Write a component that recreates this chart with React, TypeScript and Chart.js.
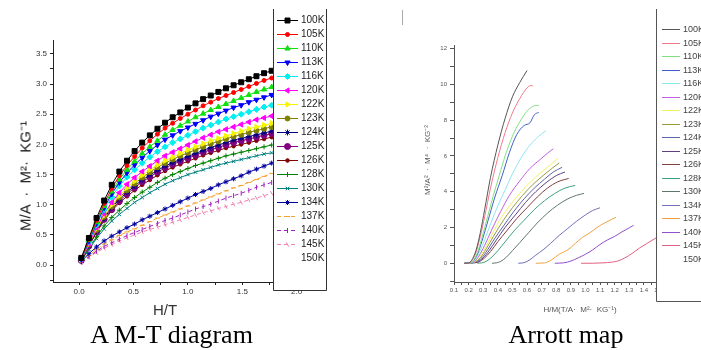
import React, { useEffect, useRef } from 'react';
import { Chart, registerables } from 'chart.js';
import { drawPoint } from 'chart.js/helpers';

Chart.register(...registerables);

// ---------------- data ----------------
const temperatures = ['100K', '105K', '110K', '113K', '116K', '120K', '122K', '123K', '124K', '125K', '126K', '128K', '130K', '134K', '137K', '140K', '145K', '150K'];

// M-T diagram: field H (T)
const fieldH = [0.02, 0.09, 0.16, 0.23, 0.30, 0.37, 0.44, 0.51, 0.58, 0.65, 0.72, 0.79, 0.86, 0.93, 1.00, 1.07, 1.14, 1.21, 1.28, 1.35, 1.42, 1.49, 1.56, 1.63, 1.70, 1.77];

const mt100 = [0.12, 0.45, 0.78, 1.07, 1.33, 1.55, 1.73, 1.89, 2.03, 2.15, 2.26, 2.36, 2.45, 2.53, 2.61, 2.68, 2.75, 2.81, 2.87, 2.93, 2.98, 3.03, 3.08, 3.13, 3.18, 3.22];
const mt105 = [0.11, 0.43, 0.74, 1.02, 1.27, 1.48, 1.65, 1.80, 1.94, 2.06, 2.17, 2.27, 2.35, 2.43, 2.50, 2.57, 2.64, 2.70, 2.76, 2.81, 2.86, 2.91, 2.96, 3.01, 3.06, 3.10];
const mt110 = [0.11, 0.42, 0.71, 0.98, 1.22, 1.42, 1.58, 1.72, 1.85, 1.96, 2.06, 2.16, 2.24, 2.31, 2.38, 2.45, 2.51, 2.57, 2.62, 2.67, 2.72, 2.77, 2.82, 2.87, 2.91, 2.95];
const mt113 = [0.10, 0.40, 0.69, 0.95, 1.18, 1.37, 1.53, 1.66, 1.78, 1.89, 1.99, 2.08, 2.15, 2.22, 2.28, 2.34, 2.40, 2.46, 2.51, 2.56, 2.61, 2.65, 2.70, 2.74, 2.78, 2.82];
const mt116 = [0.10, 0.39, 0.67, 0.92, 1.13, 1.31, 1.46, 1.58, 1.69, 1.79, 1.88, 1.96, 2.03, 2.09, 2.15, 2.21, 2.27, 2.32, 2.37, 2.42, 2.46, 2.50, 2.54, 2.58, 2.62, 2.65];
const mt120 = [0.09, 0.36, 0.62, 0.85, 1.04, 1.20, 1.34, 1.45, 1.55, 1.64, 1.73, 1.81, 1.87, 1.93, 1.99, 2.05, 2.11, 2.16, 2.21, 2.25, 2.29, 2.33, 2.37, 2.41, 2.44, 2.47];
const mt122 = [0.09, 0.35, 0.60, 0.82, 1.00, 1.15, 1.28, 1.39, 1.49, 1.58, 1.66, 1.73, 1.79, 1.85, 1.91, 1.96, 2.01, 2.06, 2.10, 2.14, 2.18, 2.22, 2.26, 2.29, 2.32, 2.35];
const mt123 = [0.09, 0.34, 0.58, 0.80, 0.97, 1.12, 1.24, 1.35, 1.45, 1.54, 1.62, 1.69, 1.75, 1.81, 1.86, 1.91, 1.96, 2.01, 2.05, 2.09, 2.13, 2.16, 2.20, 2.23, 2.26, 2.29];
const mt124 = [0.08, 0.33, 0.57, 0.78, 0.95, 1.09, 1.21, 1.31, 1.41, 1.49, 1.57, 1.64, 1.70, 1.75, 1.80, 1.85, 1.90, 1.95, 1.99, 2.03, 2.07, 2.10, 2.13, 2.16, 2.19, 2.22];
const mt125 = [0.08, 0.32, 0.55, 0.76, 0.92, 1.06, 1.18, 1.28, 1.38, 1.46, 1.54, 1.61, 1.67, 1.72, 1.77, 1.82, 1.87, 1.91, 1.95, 1.99, 2.03, 2.06, 2.09, 2.12, 2.15, 2.18];
const mt126 = [0.08, 0.32, 0.54, 0.74, 0.90, 1.03, 1.14, 1.24, 1.33, 1.41, 1.49, 1.56, 1.62, 1.67, 1.72, 1.77, 1.82, 1.86, 1.90, 1.94, 1.97, 2.00, 2.03, 2.06, 2.09, 2.12];
const mt128 = [0.07, 0.28, 0.47, 0.65, 0.79, 0.91, 1.02, 1.12, 1.21, 1.29, 1.37, 1.44, 1.50, 1.55, 1.60, 1.65, 1.69, 1.73, 1.77, 1.81, 1.84, 1.87, 1.90, 1.93, 1.96, 1.99];
const mt130 = [0.07, 0.26, 0.44, 0.60, 0.73, 0.84, 0.94, 1.04, 1.12, 1.20, 1.27, 1.34, 1.40, 1.45, 1.50, 1.54, 1.58, 1.62, 1.66, 1.69, 1.72, 1.75, 1.78, 1.81, 1.84, 1.86];
const mt134 = [0.06, 0.19, 0.30, 0.40, 0.48, 0.55, 0.62, 0.68, 0.75, 0.81, 0.87, 0.93, 0.99, 1.05, 1.11, 1.17, 1.22, 1.27, 1.33, 1.38, 1.43, 1.48, 1.54, 1.59, 1.64, 1.69];
const mt137 = [0.05, 0.16, 0.26, 0.35, 0.42, 0.49, 0.55, 0.60, 0.66, 0.72, 0.78, 0.83, 0.88, 0.93, 0.98, 1.03, 1.08, 1.13, 1.18, 1.23, 1.28, 1.32, 1.37, 1.42, 1.47, 1.52];
const mt140 = [0.05, 0.14, 0.23, 0.31, 0.37, 0.43, 0.49, 0.54, 0.59, 0.64, 0.69, 0.74, 0.78, 0.83, 0.88, 0.93, 0.97, 1.01, 1.06, 1.11, 1.15, 1.19, 1.24, 1.29, 1.33, 1.37];
const mt145 = [0.04, 0.13, 0.21, 0.28, 0.34, 0.40, 0.45, 0.50, 0.55, 0.59, 0.63, 0.67, 0.71, 0.75, 0.79, 0.83, 0.87, 0.90, 0.94, 0.97, 1.01, 1.04, 1.08, 1.11, 1.15, 1.19];
const mt150: number[] = [];

const mtSeries = [mt100, mt105, mt110, mt113, mt116, mt120, mt122, mt123, mt124, mt125, mt126, mt128, mt130, mt134, mt137, mt140, mt145, mt150];

// Arrott map: [H/M, M^2]
const arrott100 = [[0.17, 0], [0.20, 0.02], [0.22, 0.15], [0.25, 0.7], [0.28, 1.7], [0.31, 3.0], [0.35, 4.8], [0.40, 6.6], [0.45, 8.1], [0.50, 9.3], [0.55, 10.1], [0.60, 10.77]];
const arrott105 = [[0.17, 0], [0.20, 0.02], [0.22, 0.12], [0.25, 0.6], [0.28, 1.5], [0.31, 2.6], [0.35, 4.2], [0.40, 5.9], [0.45, 7.3], [0.50, 8.4], [0.55, 9.2], [0.60, 9.8], [0.625, 9.93], [0.64, 9.92]];
const arrott110 = [[0.17, 0], [0.20, 0.02], [0.23, 0.12], [0.26, 0.6], [0.29, 1.4], [0.33, 2.6], [0.37, 3.8], [0.41, 4.9], [0.45, 6.0], [0.50, 7.1], [0.55, 7.9], [0.60, 8.5], [0.65, 8.8], [0.68, 8.82]];
const arrott113 = [[0.17, 0], [0.20, 0.02], [0.23, 0.1], [0.26, 0.5], [0.29, 1.2], [0.33, 2.3], [0.38, 3.7], [0.43, 4.9], [0.48, 6.2], [0.53, 7.2], [0.58, 7.7], [0.62, 7.85], [0.65, 8.3], [0.68, 8.43]];
const arrott116 = [[0.17, 0], [0.20, 0.02], [0.23, 0.08], [0.26, 0.4], [0.30, 1.1], [0.35, 2.2], [0.40, 3.2], [0.45, 4.1], [0.50, 5.0], [0.56, 5.9], [0.62, 6.6], [0.68, 7.1], [0.73, 7.42]];
const arrott120 = [[0.17, 0], [0.21, 0.02], [0.24, 0.1], [0.27, 0.4], [0.31, 1.0], [0.36, 1.9], [0.42, 2.9], [0.48, 3.8], [0.55, 4.6], [0.62, 5.3], [0.69, 5.8], [0.74, 6.15], [0.78, 6.4]];
const arrott122 = [[0.18, 0], [0.21, 0.02], [0.24, 0.08], [0.27, 0.3], [0.31, 0.8], [0.36, 1.6], [0.42, 2.5], [0.49, 3.3], [0.56, 4.0], [0.63, 4.6], [0.70, 5.1], [0.76, 5.5], [0.81, 5.85]];
const arrott123 = [[0.18, 0], [0.21, 0.02], [0.24, 0.07], [0.28, 0.3], [0.32, 0.8], [0.37, 1.5], [0.43, 2.3], [0.50, 3.1], [0.57, 3.8], [0.64, 4.4], [0.71, 4.9], [0.77, 5.3], [0.82, 5.6]];
const arrott124 = [[0.18, 0], [0.22, 0.02], [0.25, 0.07], [0.29, 0.3], [0.33, 0.75], [0.38, 1.4], [0.44, 2.1], [0.51, 2.9], [0.58, 3.6], [0.65, 4.2], [0.72, 4.7], [0.78, 5.1], [0.84, 5.36]];
const arrott125 = [[0.19, 0], [0.22, 0.02], [0.26, 0.07], [0.30, 0.3], [0.34, 0.7], [0.39, 1.3], [0.45, 2.0], [0.52, 2.7], [0.59, 3.4], [0.66, 4.0], [0.73, 4.5], [0.80, 4.9], [0.86, 5.1]];
const arrott126 = [[0.19, 0], [0.23, 0.02], [0.27, 0.07], [0.31, 0.3], [0.35, 0.65], [0.40, 1.2], [0.46, 1.8], [0.53, 2.5], [0.60, 3.1], [0.67, 3.7], [0.74, 4.2], [0.81, 4.55], [0.885, 4.74]];
const arrott128 = [[0.26, 0], [0.29, 0.02], [0.32, 0.1], [0.36, 0.35], [0.40, 0.7], [0.45, 1.2], [0.51, 1.8], [0.58, 2.4], [0.65, 3.0], [0.72, 3.5], [0.79, 3.9], [0.86, 4.2], [0.93, 4.35]];
const arrott130 = [[0.36, 0], [0.39, 0.02], [0.42, 0.1], [0.46, 0.35], [0.50, 0.7], [0.55, 1.15], [0.61, 1.7], [0.67, 2.25], [0.74, 2.8], [0.81, 3.25], [0.88, 3.6], [0.94, 3.8], [0.99, 3.9]];
const arrott134 = [[0.54, 0], [0.58, 0.03], [0.62, 0.2], [0.66, 0.45], [0.71, 0.75], [0.76, 1.1], [0.82, 1.55], [0.88, 1.95], [0.94, 2.35], [1.00, 2.7], [1.05, 2.95], [1.10, 3.1]];
const arrott137 = [[0.66, 0], [0.72, 0.02], [0.77, 0.2], [0.82, 0.5], [0.88, 0.75], [0.93, 1.1], [0.98, 1.45], [1.03, 1.7], [1.08, 2.0], [1.13, 2.25], [1.18, 2.45], [1.21, 2.57]];
const arrott140 = [[0.79, 0], [0.85, 0.02], [0.90, 0.12], [0.95, 0.3], [1.00, 0.5], [1.05, 0.75], [1.10, 1.05], [1.15, 1.3], [1.20, 1.5], [1.25, 1.75], [1.30, 1.98], [1.33, 2.12]];
const arrott145 = [[0.97, 0], [1.05, 0], [1.12, 0.02], [1.18, 0.06], [1.22, 0.12], [1.27, 0.3], [1.32, 0.55], [1.37, 0.85], [1.42, 1.1], [1.47, 1.35], [1.52, 1.6], [1.58, 1.9]];
const arrott150: number[][] = [];

const arrottSeries = [arrott100, arrott105, arrott110, arrott113, arrott116, arrott120, arrott122, arrott123, arrott124, arrott125, arrott126, arrott128, arrott130, arrott134, arrott137, arrott140, arrott145, arrott150];

// ---------------- styles ----------------
const mtColors = ['#000000', '#FF0000', '#10E010', '#0000FF', '#00F0F0', '#FF00FF', '#F5F500', '#808000', '#000080', '#800080', '#800000', '#008000', '#008080', '#0000A0', '#F5A030', '#A020C0', '#F080B0', '#999999'];
const mtMarkers: { style: any; rot: number; r: number }[] = [
  { style: 'rect', rot: 0, r: 3.5 },
  { style: 'circle', rot: 0, r: 2 },
  { style: 'triangle', rot: 0, r: 3 },
  { style: 'triangle', rot: 180, r: 3 },
  { style: 'rectRot', rot: 0, r: 3 },
  { style: 'triangle', rot: -90, r: 3 },
  { style: 'triangle', rot: 90, r: 3 },
  { style: 'circle', rot: 0, r: 2.5 },
  { style: 'star', rot: 0, r: 3 },
  { style: 'circle', rot: 0, r: 3 },
  { style: 'circle', rot: 0, r: 1.8 },
  { style: 'cross', rot: 0, r: 2.5 },
  { style: 'crossRot', rot: 0, r: 2.5 },
  { style: 'star', rot: 0, r: 2.5 },
  { style: 'line', rot: 0, r: 2.5 },
  { style: 'line', rot: 90, r: 2.5 },
  { style: 'line', rot: 60, r: 2.5 },
  { style: false, rot: 0, r: 0 },
];
const mtDash: number[][] = [[], [], [], [], [], [], [], [], [], [], [], [], [], [], [4, 3], [4, 3], [4, 3], []];

const arrottColors = ['#555555', '#F07A8A', '#80E080', '#4060C8', '#8CE6F2', '#C060E0', '#F2F060', '#9A9A40', '#5A64A8', '#604080', '#804040', '#40A080', '#607868', '#7070B8', '#F2A040', '#9050C8', '#E06080', '#999999'];

const SANS = '"Liberation Sans", Arial, sans-serif';

// ---------------- legend plugin ----------------
type LegendCfg = {
  left: number; right: number; top: number; bottom: number;
  y0: number; dy: number; x1: number; x2: number; tx: number;
  font: string; textColor: string; borderColor: string; markers: boolean;
};

function boxLegend(cfg: LegendCfg) {
  return {
    id: 'boxLegend',
    afterDraw(chart: any) {
      const ctx = chart.ctx as CanvasRenderingContext2D;
      ctx.save();
      ctx.fillStyle = '#ffffff';
      ctx.fillRect(cfg.left, cfg.top, cfg.right - cfg.left, cfg.bottom - cfg.top);
      ctx.strokeStyle = cfg.borderColor;
      ctx.lineWidth = 1;
      ctx.setLineDash([]);
      ctx.beginPath();
      ctx.moveTo(cfg.left + 0.5, cfg.top);
      ctx.lineTo(cfg.left + 0.5, cfg.bottom + 0.5);
      ctx.lineTo(cfg.right + 0.5, cfg.bottom + 0.5);
      ctx.lineTo(cfg.right + 0.5, cfg.top);
      ctx.stroke();
      chart.data.datasets.forEach((ds: any, i: number) => {
        const y = Math.round(cfg.y0 + i * cfg.dy) + 0.5;
        if (ds.data.length) {
          ctx.strokeStyle = ds.borderColor;
          ctx.lineWidth = 1;
          ctx.setLineDash(ds.borderDash || []);
          ctx.beginPath();
          ctx.moveTo(cfg.x1, y);
          ctx.lineTo(cfg.x2, y);
          ctx.stroke();
          ctx.setLineDash([]);
          if (cfg.markers && ds.pointStyle) {
            ctx.fillStyle = ds.pointBackgroundColor;
            ctx.strokeStyle = ds.pointBorderColor;
            ctx.lineWidth = 1;
            drawPoint(ctx, { pointStyle: ds.pointStyle, rotation: ds.pointRotation || 0, radius: ds.pointRadius, borderWidth: 1 } as any, (cfg.x1 + cfg.x2) / 2, y);
          }
        }
        ctx.fillStyle = cfg.textColor;
        ctx.font = cfg.font;
        ctx.textBaseline = 'middle';
        ctx.textAlign = 'left';
        ctx.fillText(ds.label, cfg.tx, y);
      });
      ctx.restore();
    },
  };
}

const isMult = (v: number, step: number) => Math.abs(v / step - Math.round(v / step)) < 1e-6;

// ---------------- charts ----------------
function MTChart() {
  const ref = useRef<HTMLCanvasElement>(null);
  useEffect(() => {
    const datasets = mtSeries.map((vals, i) => ({
      label: temperatures[i],
      data: vals.map((v, k) => ({ x: fieldH[k], y: v })),
      borderColor: mtColors[i],
      backgroundColor: mtColors[i],
      borderWidth: 1,
      borderDash: mtDash[i],
      pointStyle: mtMarkers[i].style,
      pointRotation: mtMarkers[i].rot,
      pointRadius: mtMarkers[i].r,
      pointBorderWidth: 1,
      pointBackgroundColor: mtColors[i],
      pointBorderColor: mtColors[i],
      tension: 0,
      fill: false,
    }));
    const chart = new Chart(ref.current!, {
      type: 'line',
      data: { datasets } as any,
      options: {
        animation: false,
        responsive: false,
        devicePixelRatio: 1,
        layout: { padding: { left: 13, right: 27, top: 40, bottom: 23 } },
        plugins: { legend: { display: false }, tooltip: { enabled: false } },
        scales: {
          x: {
            type: 'linear', min: -0.24, max: 2.15,
            afterFit: (s: any) => { s.height = 20; },
            border: { display: true, color: '#222', width: 1 },
            grid: { display: true, drawOnChartArea: false, drawTicks: true, tickLength: 3, color: '#222' },
            ticks: {
              stepSize: 0.25, includeBounds: false, autoSkip: false, maxRotation: 0, minRotation: 0, padding: 2,
              color: '#333', font: { family: SANS, size: 8 },
              callback: (v: any) => (isMult(v, 0.5) ? Number(v).toFixed(1) : ''),
            },
          },
          y: {
            type: 'linear', min: -0.28, max: 3.73,
            afterFit: (s: any) => { s.width = 40; },
            border: { display: true, color: '#222', width: 1 },
            grid: { display: true, drawOnChartArea: false, drawTicks: true, tickLength: 3, color: '#222' },
            ticks: {
              stepSize: 0.25, includeBounds: false, autoSkip: false, padding: 3,
              color: '#333', font: { family: SANS, size: 8 },
              callback: (v: any) => (isMult(v, 0.5) ? Number(v).toFixed(1) : ''),
            },
          },
        },
      } as any,
      plugins: [boxLegend({
        left: 273, right: 326, top: 9, bottom: 290, y0: 20, dy: 14, x1: 277, x2: 298, tx: 301,
        font: `10px ${SANS}`, textColor: '#222', borderColor: '#333', markers: true,
      })],
    });
    return () => chart.destroy();
  }, []);
  return <canvas ref={ref} width={340} height={325} style={{ position: 'absolute', left: 0, top: 0, width: 340, height: 325 }} />;
}

function ArrottChart() {
  const ref = useRef<HTMLCanvasElement>(null);
  useEffect(() => {
    const datasets = arrottSeries.map((pts, i) => ({
      label: temperatures[i],
      data: pts.map((p) => ({ x: p[0], y: p[1] })),
      borderColor: arrottColors[i],
      backgroundColor: arrottColors[i],
      borderWidth: 1,
      pointRadius: 0,
      tension: 0.4,
      cubicInterpolationMode: 'monotone',
      fill: false,
    }));
    const chart = new Chart(ref.current!, {
      type: 'line',
      data: { datasets } as any,
      options: {
        animation: false,
        responsive: false,
        devicePixelRatio: 1,
        layout: { padding: { left: 64, right: 25, top: 45, bottom: 23 } },
        plugins: { legend: { display: false }, tooltip: { enabled: false } },
        scales: {
          x: {
            type: 'linear', min: 0.1, max: 1.62,
            afterFit: (s: any) => { s.height = 20; },
            border: { display: true, color: '#555', width: 1 },
            grid: { display: true, drawOnChartArea: false, drawTicks: true, tickLength: 3, color: '#555' },
            ticks: {
              stepSize: 0.05, includeBounds: false, autoSkip: false, maxRotation: 0, minRotation: 0, padding: 2,
              color: '#555', font: { family: SANS, size: 6 },
              callback: (v: any) => (isMult(v, 0.1) ? Number(v).toFixed(1) : ''),
            },
          },
          y: {
            type: 'linear', min: -1.05, max: 12.2,
            afterFit: (s: any) => { s.width = 40; },
            border: { display: true, color: '#555', width: 1 },
            grid: { display: true, drawOnChartArea: false, drawTicks: true, tickLength: 4, color: '#555' },
            ticks: {
              stepSize: 1, includeBounds: false, autoSkip: false, padding: 3,
              color: '#555', font: { family: SANS, size: 6 },
              callback: (v: any) => (v >= 0 && isMult(v, 2) ? String(Math.round(v)) : ''),
            },
          },
        },
      } as any,
      plugins: [boxLegend({
        left: 306, right: 370, top: 9, bottom: 301, y0: 29, dy: 13.5, x1: 312, x2: 330, tx: 333,
        font: `9px ${SANS}`, textColor: '#444', borderColor: '#555', markers: false,
      })],
    });
    return () => chart.destroy();
  }, []);
  return <canvas ref={ref} width={351} height={325} style={{ position: 'absolute', left: 350, top: 0, width: 351, height: 325 }} />;
}

const rotTitle = (cx: number, cy: number, size: number, color: string): React.CSSProperties => ({
  position: 'absolute', left: cx, top: cy, transform: 'translate(-50%, -50%) rotate(-90deg)',
  whiteSpace: 'pre', font: `${size}px ${SANS}`, color, lineHeight: 1,
});

export default function App() {
  return (
    <div style={{ position: 'absolute', left: 0, top: 0, width: 701, height: 350, background: '#fff', overflow: 'hidden' }}>
      <MTChart />
      <ArrottChart />
      {/* left axis titles */}
      <div style={rotTitle(25, 176, 15, '#222')}>{'M/A  ·  M²·  KG⁻¹'}</div>
      <div style={{ position: 'absolute', left: 165, top: 309, transform: 'translate(-50%, -50%)', font: `15px ${SANS}`, color: '#333', lineHeight: 1 }}>H/T</div>
      {/* right axis titles */}
      <div style={rotTitle(428, 160, 8, '#555')}>{'M²/A²  ·  M⁴  ·  KG⁻²'}</div>
      <div style={{ position: 'absolute', left: 580, top: 310, transform: 'translate(-50%, -50%)', font: `8px ${SANS}`, color: '#555', lineHeight: 1, whiteSpace: 'pre' }}>{'H/M(T/A·  M²·  KG⁻¹)'}</div>
      {/* small stray mark in right panel */}
      <div style={{ position: 'absolute', left: 402, top: 10, width: 1, height: 15, background: '#aaa' }} />
      {/* captions */}
      <div style={{ position: 'absolute', left: 0, width: 343, top: 322, textAlign: 'center', font: '26px "Liberation Serif", "Times New Roman", serif', lineHeight: '26px', color: '#000' }}>A M-T diagram</div>
      <div style={{ position: 'absolute', left: 450, width: 232, top: 322, textAlign: 'center', font: '26px "Liberation Serif", "Times New Roman", serif', lineHeight: '26px', color: '#000' }}>Arrott map</div>
    </div>
  );
}
